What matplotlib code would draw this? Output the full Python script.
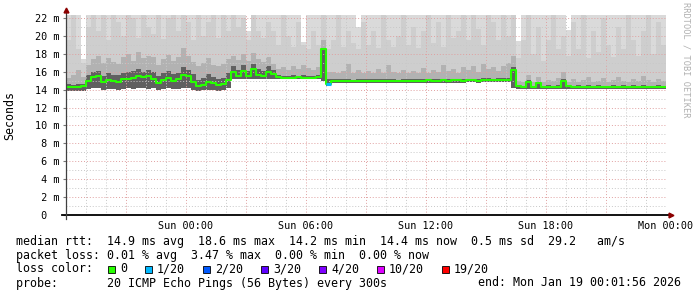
import numpy as np
import matplotlib
matplotlib.use("Agg")
import matplotlib.pyplot as plt
from matplotlib.patches import Rectangle

# ---------------- data (15-minute steps from Sat 18:00, 30 hours) ----------------
step_hours = 0.25

median = [
    14.3, 14.3, 14.3, 14.35, 15.0, 15.45, 15.5, 14.8, 15.1, 15.0,
    14.9, 15.2, 15.2, 15.3, 15.55, 15.45, 15.5, 15.2, 14.75, 15.1,
    15.3, 15.0, 15.2, 15.6, 15.5, 14.9, 14.4, 14.5, 14.9, 14.7,
    14.5, 14.6, 15.1, 16.0, 15.5, 16.1, 15.5, 16.3, 15.6, 15.5,
    16.0, 15.7, 15.4, 15.35, 15.35, 15.35, 15.4, 15.35, 15.35, 15.35,
    15.4, 18.5, 14.6, 14.95, 14.95, 14.95, 15.0, 14.95, 14.95, 14.95,
    14.95, 14.95, 15.0, 14.95, 15.0, 15.0, 15.0, 14.95, 15.0, 15.0,
    15.0, 15.0, 15.05, 15.0, 15.0, 15.05, 15.0, 15.05, 15.05, 15.0,
    15.05, 15.05, 15.0, 15.05, 15.1, 15.05, 15.1, 15.05, 15.1, 16.2,
    14.4, 14.3, 14.9, 14.3, 14.75, 14.3, 14.3, 14.3, 14.3, 15.0,
    14.35, 14.3, 14.3, 14.3, 14.25, 14.3, 14.3, 14.3, 14.25, 14.3,
    14.3, 14.3, 14.25, 14.3, 14.3, 14.3, 14.3, 14.3, 14.25, 14.3,
]

# loss index per step (0 = no loss, 1 = 1/20 ...)
loss = [0] * 52 + [1] + [0] * 67

smoke_low = [
    13.8, 13.8, 13.8, 13.8, 14.1, 14.2, 14.2, 14.0, 14.1, 14.1,
    14.0, 14.1, 14.2, 14.1, 14.2, 14.2, 14.1, 14.2, 14.0, 14.1,
    14.2, 14.1, 14.1, 14.2, 14.2, 14.0, 13.9, 14.0, 14.0, 14.0,
    13.9, 14.0, 14.2, 15.2, 15.2, 15.2, 15.2, 15.2, 15.2, 15.2,
    15.2, 15.2, 15.15, 15.15, 15.15, 15.15, 15.15, 15.15, 15.15, 15.15,
    15.15, 15.0, 14.4, 14.75, 14.75, 14.75, 14.75, 14.75, 14.75, 14.75,
    14.75, 14.75, 14.75, 14.75, 14.75, 14.75, 14.75, 14.75, 14.75, 14.75,
    14.75, 14.75, 14.75, 14.75, 14.75, 14.75, 14.75, 14.75, 14.75, 14.75,
    14.8, 14.8, 14.75, 14.8, 14.8, 14.8, 14.8, 14.8, 14.8, 14.2,
    14.1, 14.1, 14.1, 14.1, 14.1, 14.1, 14.1, 14.1, 14.1, 14.1,
    14.1, 14.1, 14.1, 14.1, 14.1, 14.1, 14.1, 14.1, 14.1, 14.1,
    14.1, 14.1, 14.1, 14.1, 14.1, 14.1, 14.1, 14.1, 14.1, 14.1,
]

smoke_dark = [
    14.6, 14.5, 14.6, 14.6, 15.6, 16.0, 16.1, 15.5, 15.8, 15.6,
    15.6, 15.9, 16.0, 16.1, 16.3, 16.0, 16.2, 16.0, 15.5, 15.8,
    16.1, 15.7, 15.9, 16.5, 16.2, 15.7, 15.1, 15.3, 15.7, 15.4,
    15.2, 15.3, 15.9, 16.6, 16.2, 16.8, 16.1, 16.9, 16.3, 16.1,
    16.6, 16.2, 15.6, 15.55, 15.55, 15.6, 15.55, 15.6, 15.55, 15.55,
    15.6, 18.6, 15.2, 15.15, 15.15, 15.2, 15.15, 15.1, 15.15, 15.15,
    15.2, 15.15, 15.15, 15.2, 15.15, 15.15, 15.1, 15.15, 15.2, 15.15,
    15.15, 15.2, 15.15, 15.15, 15.2, 15.2, 15.15, 15.2, 15.15, 15.2,
    15.2, 15.2, 15.15, 15.25, 15.25, 15.2, 15.3, 15.25, 15.3, 16.5,
    14.5, 14.45, 15.1, 14.45, 14.9, 14.45, 14.5, 14.45, 14.5, 15.2,
    14.5, 14.45, 14.5, 14.45, 14.5, 14.45, 14.5, 14.45, 14.45, 14.5,
    14.45, 14.5, 14.45, 14.5, 14.45, 14.5, 14.45, 14.45, 14.5, 14.45,
]

smoke_mid = [
    15.3, 15.6, 16.2, 15.4, 16.8, 17.4, 17.8, 17.0, 17.5, 17.1,
    16.9, 17.6, 18.0, 17.2, 18.2, 17.5, 17.8, 17.6, 16.8, 17.4,
    17.9, 17.2, 17.6, 18.6, 17.8, 17.1, 16.6, 17.0, 17.5, 16.8,
    16.6, 16.9, 17.4, 17.7, 17.3, 18.0, 17.2, 18.1, 17.4, 17.1,
    17.6, 16.9, 16.3, 16.5, 16.2, 16.6, 16.3, 16.7, 16.4, 16.2,
    16.5, 19.5, 16.0, 16.0, 15.8, 16.1, 16.9, 15.9, 16.2, 15.8,
    16.1, 15.8, 16.3, 15.9, 16.7, 16.0, 15.8, 16.2, 15.8, 16.1,
    15.9, 16.4, 15.8, 16.2, 16.0, 16.8, 16.1, 16.3, 15.9, 16.5,
    16.2, 16.6, 16.0, 16.9, 16.3, 16.5, 16.1, 16.6, 17.0, 17.8,
    15.0, 14.9, 15.6, 14.9, 15.4, 14.9, 15.1, 15.0, 15.3, 16.0,
    14.9, 15.2, 14.9, 15.1, 15.4, 14.9, 15.0, 15.3, 14.9, 15.1,
    15.4, 15.0, 14.9, 15.2, 15.0, 15.5, 15.1, 14.9, 15.2, 15.0,
]

smoke_high = [
    19.5, 23.0, 18.5, 17.0, 21.0, 23.0, 20.5, 23.0, 19.5, 23.0,
    21.5, 20.0, 23.0, 22.0, 19.8, 23.0, 21.0, 20.2, 23.0, 19.6,
    22.0, 23.0, 20.5, 23.0, 21.5, 19.5, 23.0, 20.0, 21.5, 23.0,
    19.8, 22.5, 20.5, 23.0, 21.0, 22.0, 19.5, 23.0, 20.5, 19.8,
    21.5, 20.5, 19.0, 23.0, 20.0, 18.8, 21.5, 19.0, 18.5, 20.5,
    19.0, 23.0, 18.5, 19.5, 23.0, 18.8, 20.5, 19.2, 18.5, 21.5,
    19.0, 20.5, 18.6, 22.5, 19.5, 18.8, 20.0, 23.0, 19.0, 21.0,
    18.6, 20.5, 23.0, 19.2, 21.5, 18.8, 23.0, 19.8, 20.5, 23.0,
    19.5, 23.0, 20.8, 19.0, 23.0, 21.5, 19.5, 23.0, 20.0, 23.0,
    17.5, 19.5, 23.0, 18.0, 21.0, 17.2, 19.5, 23.0, 18.5, 20.0,
    17.8, 21.5, 18.5, 23.0, 17.5, 20.5, 18.2, 22.0, 19.0, 17.6,
    21.0, 18.5, 23.0, 19.5, 17.8, 20.5, 23.0, 18.0, 21.5, 19.0,
]

smoke_max = [
    23.0, 23.0, 23.0, 17.4, 23.0, 23.0, 23.0, 23.0, 23.0, 23.0,
    23.0, 23.0, 23.0, 23.0, 23.0, 23.0, 23.0, 23.0, 23.0, 23.0,
    23.0, 23.0, 23.0, 23.0, 23.0, 23.0, 23.0, 23.0, 23.0, 23.0,
    23.0, 23.0, 23.0, 23.0, 23.0, 23.0, 20.5, 23.0, 23.0, 23.0,
    23.0, 23.0, 23.0, 23.0, 23.0, 23.0, 23.0, 19.3, 23.0, 23.0,
    23.0, 23.0, 23.0, 23.0, 23.0, 23.0, 23.0, 23.0, 21.0, 23.0,
    23.0, 23.0, 23.0, 23.0, 23.0, 23.0, 23.0, 23.0, 23.0, 23.0,
    23.0, 23.0, 23.0, 23.0, 23.0, 23.0, 23.0, 23.0, 23.0, 23.0,
    23.0, 23.0, 23.0, 23.0, 23.0, 23.0, 23.0, 23.0, 23.0, 23.0,
    19.4, 23.0, 23.0, 23.0, 23.0, 23.0, 23.0, 23.0, 23.0, 23.0,
    20.7, 23.0, 23.0, 23.0, 23.0, 23.0, 23.0, 23.0, 23.0, 23.0,
    23.0, 23.0, 23.0, 23.0, 23.0, 23.0, 23.0, 23.0, 23.0, 23.0,
]

x_tick_hours = [6, 12, 18, 24, 30]
x_tick_labels = ["Sun 00:00", "Sun 06:00", "Sun 12:00", "Sun 18:00", "Mon 00:00"]
y_tick_values = [0, 2, 4, 6, 8, 10, 12, 14, 16, 18, 20, 22]

loss_labels = ["0", "1/20", "2/20", "3/20", "4/20", "10/20", "19/20"]
loss_colors = ["#26ff00", "#00b8ff", "#0059ff", "#5e00ff", "#7e00ff", "#dd00ff", "#ff0000"]

stats_rtt = "median rtt:  14.9 ms avg  18.6 ms max  14.2 ms min  14.4 ms now  0.5 ms sd  29.2   am/s"
stats_loss = "packet loss: 0.01 % avg  3.47 % max  0.00 % min  0.00 % now"
probe_text = "probe:       20 ICMP Echo Pings (56 Bytes) every 300s"
end_text = "end: Mon Jan 19 00:01:56 2026"

# ---------------- figure ----------------
W, H = 697, 297
fig = plt.figure(figsize=(W / 100, H / 100), dpi=100)
fig.patch.set_facecolor("white")
ax = fig.add_axes([66 / W, 82 / H, 600 / W, 200 / H])
ax.set_facecolor("white")

n = len(median)
edges = np.arange(n + 1) * step_hours

def ext(v):
    v = np.asarray(v, dtype=float)
    return np.r_[v, v[-1]]

low = ext(smoke_low)
ax.fill_between(edges, low, ext(smoke_max), step="post", color="#dadada", lw=0, zorder=1)
ax.fill_between(edges, low, ext(smoke_high), step="post", color="#cecece", lw=0, zorder=2)
ax.fill_between(edges, low, ext(smoke_mid), step="post", color="#b2b2b2", lw=0, zorder=3)
ax.fill_between(edges, low, ext(smoke_dark), step="post", color="#606060", lw=0, zorder=4)

ymax = 22.33
xmax = 30.0
ax.set_xlim(0, xmax)
ax.set_ylim(0, ymax)

# grid (drawn above smoke like RRDtool)
dot = (0, (1, 2))
for h in range(1, 31):
    if h % 3 == 0:
        ax.axvline(h, color="#e0a0a0", lw=0.7, ls=dot, zorder=5)
    else:
        ax.axvline(h, color="#c8c8c8", lw=0.7, ls=dot, zorder=5)
for v in range(1, 23):
    if v % 2 == 0:
        ax.axhline(v, color="#e0a0a0", lw=0.7, ls=dot, zorder=5)
    else:
        ax.axhline(v, color="#c8c8c8", lw=0.7, ls=dot, zorder=5)

# median line coloured by loss
med = ext(median)
ax.step(edges, med, where="post", color=loss_colors[0], lw=1.5, zorder=6, solid_capstyle="butt")
for i, l in enumerate(loss):
    if l:
        ax.hlines(median[i], edges[i], edges[i + 1], color=loss_colors[l], lw=2.2, zorder=7)

# axes styling
for s in ax.spines.values():
    s.set_visible(False)
ax.set_yticks(y_tick_values)
ax.set_yticklabels([f"{v:2d} m" if v else " 0  " for v in y_tick_values],
                   family="DejaVu Sans Mono", fontsize=7.3)
ax.set_xticks(x_tick_hours)
ax.set_xticklabels(x_tick_labels, family="DejaVu Sans Mono", fontsize=7.3)
ax.tick_params(axis="y", length=2, width=0.8, color="#777777", pad=3)
ax.tick_params(axis="x", length=0, pad=4)

# axis lines and arrows
ax.plot([-0.2, xmax + 0.2], [0, 0], color="black", lw=1.3, clip_on=False, zorder=8)
ax.plot([0, 0], [-0.4, ymax + 0.5], color="#404040", lw=0.9, clip_on=False, zorder=8)
ax.plot([0], [ymax + 0.55], marker="^", ms=3.5, color="#8b0000", clip_on=False, zorder=9)
ax.plot([xmax + 0.25], [0], marker=">", ms=3.5, color="#8b0000", clip_on=False, zorder=9)

def fx(x):
    return x / W

def fy(y):
    return 1 - y / H

mono = "DejaVu Sans Mono"
fs = 8.4
fig.text(fx(10), fy(115), "Seconds", rotation=90, ha="center", va="center", family=mono, fontsize=fs)
fig.text(fx(686), fy(60), "RRDTOOL / TOBI OETIKER", rotation=270, ha="center", va="center",
         family=mono, fontsize=6.2, color="#b0b0b0")

fig.text(fx(16), fy(241), stats_rtt, ha="left", va="center", family=mono, fontsize=fs)
fig.text(fx(16), fy(256), stats_loss, ha="left", va="center", family=mono, fontsize=fs)
fig.text(fx(16), fy(269), "loss color:", ha="left", va="center", family=mono, fontsize=fs)
fig.text(fx(16), fy(283), probe_text, ha="left", va="center", family=mono, fontsize=fs)
fig.text(fx(681), fy(283), end_text, ha="right", va="center", family=mono, fontsize=fs)

bx = 108
for lab, col in zip(loss_labels, loss_colors):
    fig.patches.append(Rectangle((fx(bx), fy(273)), 7 / W, 7 / H, transform=fig.transFigure,
                                 facecolor=col, edgecolor="black", lw=0.6))
    fig.text(fx(bx + 12), fy(269), lab, ha="left", va="center", family=mono, fontsize=fs)
    bx = bx + 12 + 7 * len(lab) + 18

fig.savefig("out.png", dpi=100, facecolor="white")
